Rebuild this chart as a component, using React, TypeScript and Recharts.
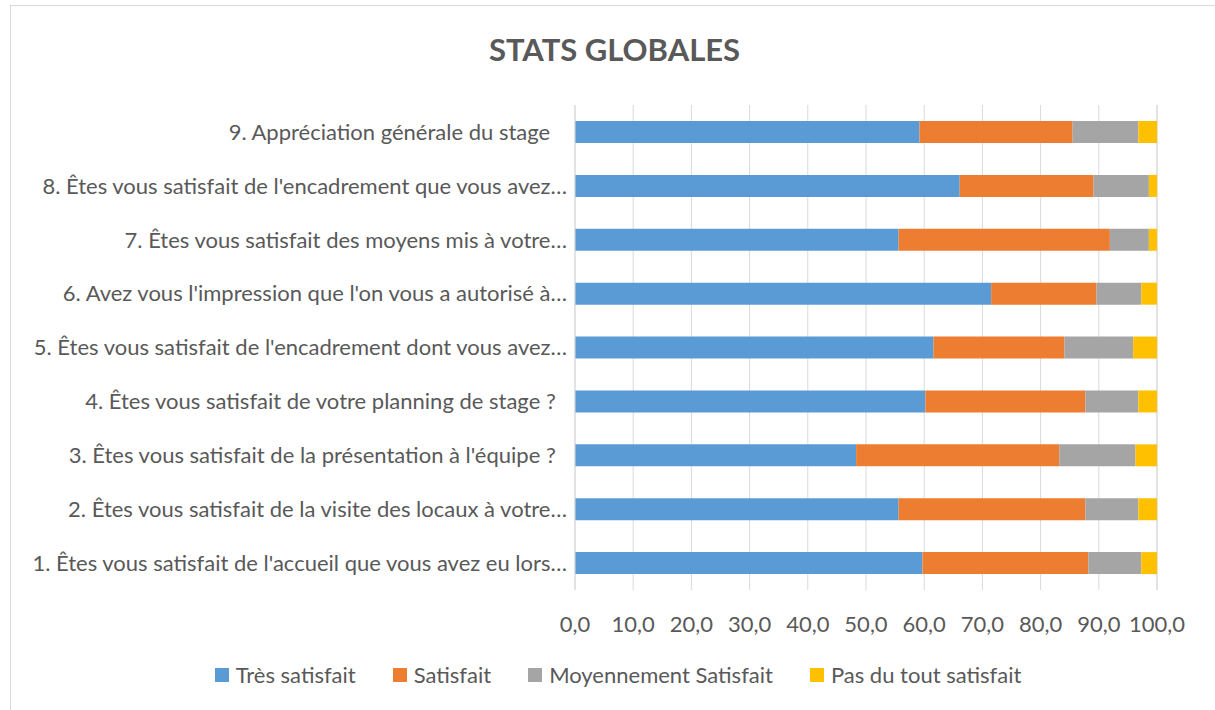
import { BarChart, Bar, XAxis, YAxis, CartesianGrid } from 'recharts';

const categories = [
  "1. Êtes vous satisfait de l'accueil que vous avez eu lors…",
  '2. Êtes vous satisfait de la visite des locaux à votre…',
  "3. Êtes vous satisfait de la présentation à l'équipe ?\u00a0\u00a0",
  '4. Êtes vous satisfait de votre planning de stage ?\u00a0\u00a0',
  "5. Êtes vous satisfait de l'encadrement dont vous avez…",
  "6. Avez vous l'impression que l'on vous a autorisé à…",
  '7. Êtes vous satisfait des moyens mis à votre…',
  "8. Êtes vous satisfait de l'encadrement que vous avez…",
  '9. Appréciation générale du stage\u00a0\u00a0\u00a0',
];

const tresSatisfait = [59.7, 55.6, 48.3, 60.2, 61.6, 71.5, 55.6, 66.1, 59.2];
const satisfait = [28.5, 32.1, 34.9, 27.5, 22.5, 18.1, 36.3, 23.0, 26.3];
const moyennement = [9.1, 9.1, 13.1, 9.1, 11.8, 7.7, 6.7, 9.5, 11.3];
const pasDuTout = [2.7, 3.2, 3.7, 3.2, 4.1, 2.7, 1.4, 1.4, 3.2];

const xTicks = [0, 10, 20, 30, 40, 50, 60, 70, 80, 90, 100];

const SERIES = [
  { key: 'tres', name: 'Très satisfait', color: '#5b9bd5' },
  { key: 'sat', name: 'Satisfait', color: '#ed7d31' },
  { key: 'moy', name: 'Moyennement Satisfait', color: '#a5a5a5' },
  { key: 'pas', name: 'Pas du tout satisfait', color: '#ffc000' },
];

const data = categories.map((name, i) => ({
  name,
  tres: tresSatisfait[i],
  sat: satisfait[i],
  moy: moyennement[i],
  pas: pasDuTout[i],
}));

const FONT = 'Lato, "Open Sans", sans-serif';
const TEXT = '#595959';

function ChartLegend() {
  return (
    <div
      style={{
        position: 'absolute',
        left: 0,
        width: 1236,
        top: 661,
        display: 'flex',
        justifyContent: 'center',
        fontFamily: FONT,
        fontSize: 22,
        color: TEXT,
        lineHeight: '28px',
      }}
    >
      {SERIES.map((s, i) => (
        <div key={s.key} style={{ display: 'flex', alignItems: 'center', marginLeft: i === 0 ? 0 : 37 }}>
          <span style={{ width: 14, height: 14, background: s.color, display: 'inline-block', marginRight: 7 }} />
          <span>{s.name}</span>
        </div>
      ))}
    </div>
  );
}

export default function App() {
  return (
    <div style={{ position: 'absolute', left: 0, top: 0, width: 1215, height: 710, background: '#fff', overflow: 'hidden' }}>
      <div style={{ position: 'absolute', left: 10, top: 5, width: 1210, height: 710, border: '1px solid #d9d9d9' }} />
      <div
        style={{
          position: 'absolute',
          left: 0,
          width: 1229,
          top: 30,
          textAlign: 'center',
          fontFamily: FONT,
          fontWeight: 'bold',
          fontSize: 31,
          color: TEXT,
        }}
      >
        STATS GLOBALES
      </div>
      <div style={{ position: 'absolute', left: 0, top: 0 }}>
        <BarChart
          width={1215}
          height={710}
          data={data}
          layout="vertical"
          barSize={22}
          margin={{ top: 105, right: 58, bottom: 70, left: 0 }}
        >
          <CartesianGrid horizontal={false} stroke="#d9d9d9" />
          <XAxis
            type="number"
            domain={[0, 100]}
            ticks={xTicks}
            interval={0}
            tickFormatter={(v: number) => v.toFixed(1).replace('.', ',')}
            axisLine={false}
            tickLine={false}
            tickMargin={20}
            height={50}
            tick={{ fill: TEXT, fontSize: 22, fontFamily: FONT }}
          />
          <YAxis
            type="category"
            dataKey="name"
            reversed
            width={575}
            axisLine={{ stroke: '#d9d9d9' }}
            tickLine={false}
            tickMargin={2}
            interval={0}
            tick={{ fill: TEXT, fontSize: 22, fontFamily: FONT }}
          />
          {SERIES.map((s) => (
            <Bar key={s.key} dataKey={s.key} name={s.name} stackId="a" fill={s.color} isAnimationActive={false} />
          ))}
        </BarChart>
      </div>
      <ChartLegend />
    </div>
  );
}
